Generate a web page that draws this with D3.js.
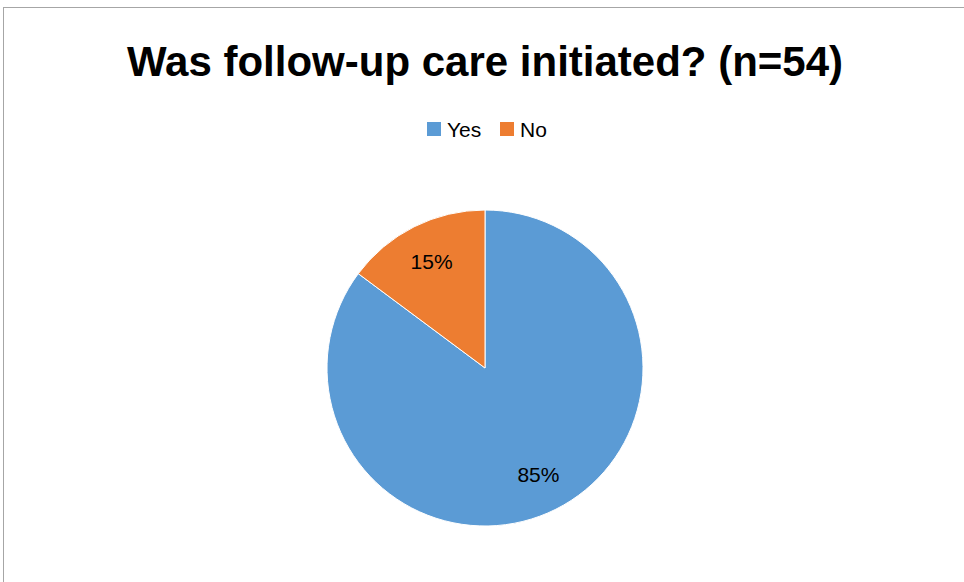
<!DOCTYPE html>
<html>
<head>
<meta charset="utf-8">
<script src="https://cdn.jsdelivr.net/npm/d3@7"></script>
<style>
body { margin: 0; background: #fff; }
svg { display: block; font-family: "Liberation Sans", Arial, sans-serif; }
</style>
</head>
<body>
<script>
(function(){

//chart data
var categories = ["Yes", "No"];
var counts = [46, 8];
var pctLabels = ["85%", "15%"];
var colors = ["#5B9BD5", "#ED7D31"];

var width = 964,
    height = 582;

var svg = d3.select("body")
    .append("svg")
    .attr("width", width)
    .attr("height", height);

//chart frame (only top & left show inside window)
svg.append("rect")
    .attr("x", 3.5)
    .attr("y", 7.5)
    .attr("width", width + 20)
    .attr("height", height + 20)
    .attr("fill", "#fff")
    .attr("stroke", "#a6a6a6")
    .attr("stroke-width", 1);

//title
svg.append("text")
    .attr("x", 485)
    .attr("y", 76)
    .attr("text-anchor", "middle")
    .style("font-size", "42px")
    .style("font-weight", "bold")
    .attr("fill", "#000")
    .text("Was follow-up care initiated? (n=54)");

//legend
var legendX = [427, 500];
var legend = svg.selectAll(".legend")
    .data(categories)
    .enter()
    .append("g")
    .attr("class", "legend")
    .attr("transform", function(d, i){ return "translate(" + legendX[i] + ",122)"; });

legend.append("rect")
    .attr("width", 14)
    .attr("height", 14)
    .attr("fill", function(d, i){ return colors[i]; });

legend.append("text")
    .attr("x", 20)
    .attr("y", 15)
    .style("font-size", "21px")
    .attr("fill", "#000")
    .text(function(d){ return d; });

//pie
var cx = 485, cy = 368, radius = 158;
var pie = d3.pie().sort(null).value(function(d){ return d; });
var arc = d3.arc().innerRadius(0).outerRadius(radius);
var labelArc = d3.arc().innerRadius(119).outerRadius(119);

var g = svg.append("g")
    .attr("transform", "translate(" + cx + "," + cy + ")");

var slices = g.selectAll(".slice")
    .data(pie(counts))
    .enter()
    .append("g")
    .attr("class", "slice");

slices.append("path")
    .attr("d", arc)
    .attr("fill", function(d, i){ return colors[i]; })
    .attr("stroke", "#fff")
    .attr("stroke-width", 1);

slices.append("text")
    .attr("transform", function(d){ return "translate(" + labelArc.centroid(d) + ")"; })
    .attr("text-anchor", "middle")
    .attr("dy", "0.35em")
    .style("font-size", "21px")
    .attr("fill", "#000")
    .text(function(d, i){ return pctLabels[i]; });

})();
</script>
</body>
</html>
